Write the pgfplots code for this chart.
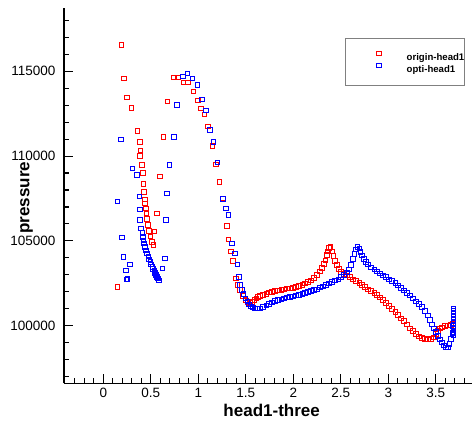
\documentclass[border=0pt]{standalone}
\usepackage{fontspec}
\setmainfont{Liberation Sans}
\usepackage{pgfplots}
\pgfplotsset{compat=1.18}

\begin{document}
\begin{tikzpicture}
\begin{axis}[
 scale only axis, width=408pt, height=375.5pt,
 xmin=-0.414, xmax=3.881, ymin=96592, ymax=118731,
 axis lines=left, axis line style={-, line width=1.8pt},
 tick align=inside, major tick length=9pt, minor tick length=5pt,
 tick style={black, line width=1.1pt},
 xtick={0,0.5,...,3.5}, minor x tick num=4,
 ytick={100000,105000,110000,115000}, minor y tick num=4,
 scaled y ticks=false,
 tick label style={font=\fontsize{13.5}{14}\selectfont, /pgf/number format/assume math mode=true},
 yticklabel style={/pgf/number format/.cd,fixed,1000 sep={}, /tikz/.cd, xshift=-5pt},
 xticklabel style={/pgf/number format/fixed, yshift=-1pt},
 xlabel={\textbf{head1-three}}, ylabel={\textbf{pressure}},
 label style={font=\fontsize{17}{17}\selectfont},
 xlabel style={at={(axis description cs:0.509,-0.0884)}, anchor=base},
 ylabel style={at={(axis description cs:-0.0846,0.495)}, anchor=base},
 legend style={at={(axis description cs:0.689,0.921)}, anchor=north west,
   draw=black!50, very thick, inner xsep=0pt, inner ysep=13pt,
   row sep=3pt, column sep=0pt,
   nodes={inner sep=0pt, text depth=0pt},
   font=\bfseries\fontsize{9.6}{9.6}\selectfont},
 legend cell align=left,
 legend image code/.code={\path[draw=none] (0pt,0pt) rectangle (61pt,0pt);
   \draw[#1] plot coordinates {(33pt,3.5pt)};},
]
\addplot[only marks, mark=square, mark size=2.2pt, red, mark options={line width=0.7pt}] coordinates {
(0.147,102300) (0.187,116550) (0.218,114600) (0.249,113480) (0.292,112840)
(0.355,111480) (0.383,110850) (0.389,110340) (0.386,110010) (0.404,109480)
(0.415,109020) (0.421,108360) (0.428,107900) (0.436,107450) (0.439,107220)
(0.446,106920) (0.453,106630) (0.460,106290) (0.467,105940) (0.481,105600)
(0.492,105250) (0.509,104950) (0.526,104760) (0.537,105580) (0.562,106630)
(0.597,108790) (0.632,111140) (0.676,113230) (0.737,114650) (0.789,114650)
(0.842,114330) (0.888,114330) (0.947,113800) (0.994,113270) (1.025,112820)
(1.063,112460) (1.099,111770) (1.147,110600) (1.186,109530) (1.221,108490)
(1.257,107510) (1.299,105880) (1.316,105090) (1.341,104400) (1.362,103830)
(1.397,102800) (1.411,102400) (1.439,102110) (1.467,101750) (1.492,101520)
(1.502,101490) (1.523,101370) (1.544,101340) (1.566,101400) (1.587,101520)
(1.608,101600) (1.628,101690) (1.649,101750) (1.681,101810) (1.713,101870)
(1.744,101960) (1.776,101990) (1.807,102050) (1.839,102080) (1.871,102110)
(1.902,102130) (1.934,102190) (1.965,102190) (1.997,102220) (2.028,102280)
(2.060,102340) (2.092,102400) (2.123,102490) (2.155,102580) (2.186,102690)
(2.218,102810) (2.249,102990) (2.281,103200) (2.302,103400) (2.323,103640)
(2.339,103870) (2.355,104170) (2.365,104400) (2.376,104580) (2.392,104640)
(2.407,104400) (2.423,104110) (2.439,103820) (2.460,103580) (2.481,103340)
(2.502,103170) (2.534,103050) (2.565,102960) (2.597,102870) (2.628,102750)
(2.660,102640) (2.692,102520) (2.723,102400) (2.755,102280) (2.786,102160)
(2.818,102050) (2.850,101930) (2.881,101810) (2.913,101660) (2.944,101520)
(2.976,101340) (3.007,101160) (3.039,100990) (3.071,100810) (3.102,100630)
(3.134,100450) (3.165,100280) (3.197,100070) (3.228,99860) (3.260,99690)
(3.292,99510) (3.323,99360) (3.355,99280) (3.386,99220) (3.418,99190)
(3.449,99220) (3.481,99330) (3.502,99510) (3.523,99690) (3.544,99840)
(3.565,99920) (3.597,99980) (3.628,100010) (3.660,100040) (3.681,100100)
};
\addlegendentry{origin-head1\hspace{20pt}}
\addplot[only marks, mark=square, mark size=2.2pt, blue, mark options={line width=0.7pt}] coordinates {
(0.183,111000) (0.307,109280) (0.352,108900) (0.147,107320) (0.379,107620)
(0.383,106850) (0.386,106230) (0.397,105740) (0.195,105210) (0.211,104070)
(0.281,103630) (0.236,103280) (0.253,102770) (0.242,102720) (0.696,109480)
(0.667,107810) (0.660,106230) (0.649,103970) (0.621,103380)
(0.413,105470) (0.418,105230) (0.423,105020) (0.428,104850) (0.439,104640)
(0.449,104430) (0.460,104260) (0.471,104080) (0.481,103900) (0.492,103760)
(0.502,103610) (0.513,103460) (0.523,103340) (0.534,103230) (0.544,103110)
(0.555,102990) (0.565,102870) (0.576,102780) (0.586,102690)
(0.744,111140) (0.773,113010) (0.836,114690) (0.884,114880) (0.937,114590)
(0.989,114190) (1.039,113350) (1.081,112680) (1.123,111540) (1.158,110850)
(1.200,109630) (1.257,107470) (1.288,106920) (1.316,106530) (1.352,104860)
(1.386,104270) (1.411,103620) (1.428,102890) (1.439,102400) (1.457,102110)
(1.471,101870) (1.492,101620) (1.513,101430) (1.534,101250) (1.555,101130)
(1.576,101070) (1.597,101030) (1.618,101010) (1.649,101040) (1.681,101100)
(1.713,101190) (1.744,101280) (1.776,101370) (1.807,101460) (1.839,101520)
(1.871,101570) (1.902,101600) (1.934,101660) (1.965,101690) (1.997,101720)
(2.028,101780) (2.060,101810) (2.092,101870) (2.123,101930) (2.155,101990)
(2.186,102050) (2.218,102110) (2.249,102160) (2.281,102250) (2.312,102310)
(2.344,102400) (2.376,102490) (2.407,102580) (2.439,102670) (2.471,102750)
(2.502,102870) (2.534,102990) (2.565,103140) (2.586,103310) (2.607,103580)
(2.628,103930) (2.644,104230) (2.660,104490) (2.676,104640) (2.692,104550)
(2.707,104350) (2.723,104140) (2.744,103930) (2.765,103760) (2.786,103610)
(2.818,103430) (2.850,103310) (2.881,103200) (2.913,103080) (2.944,102960)
(2.976,102870) (3.007,102750) (3.039,102640) (3.071,102520) (3.102,102370)
(3.134,102220) (3.165,102080) (3.197,101930) (3.228,101780) (3.260,101600)
(3.292,101430) (3.323,101280) (3.355,101100) (3.386,100870) (3.418,100600)
(3.439,100340) (3.460,100070) (3.481,99840) (3.502,99630) (3.523,99390)
(3.544,99190) (3.565,99010) (3.586,98830) (3.607,98720) (3.628,98740)
(3.644,98920) (3.660,99220) (3.671,99570) (3.681,99980)
(3.686,101040) (3.686,100870) (3.686,100690) (3.686,100510) (3.686,100340)
(3.686,100160) (3.686,99980) (3.686,99810) (3.686,99630) (3.686,99450)
};
\addlegendentry{opti-head1\hspace{20pt}}
\end{axis}
% tick marks along the two axis lines (axis corner sits at the origin)
\foreach \v in {-3,...,38}
  \draw[black, line width=0.9pt] ({(\v/10+0.414)*94.994pt},0pt) -- ++(0pt,5pt);
\foreach \v in {0,0.5,...,3.5}
  \draw[black, line width=1.1pt] ({(\v+0.414)*94.994pt},0pt) -- ++(0pt,9pt);
\foreach \v in {97,...,118}
  \draw[black, line width=0.9pt] (0pt,{(\v-96.592)*16.961pt}) -- ++(5pt,0pt);
\foreach \v in {100,105,110,115}
  \draw[black, line width=1.1pt] (0pt,{(\v-96.592)*16.961pt}) -- ++(9pt,0pt);
\pgfresetboundingbox
\path[use as bounding box] (-64pt,-39.5pt) rectangle (408pt,383.5pt);
\end{tikzpicture}
\end{document}
